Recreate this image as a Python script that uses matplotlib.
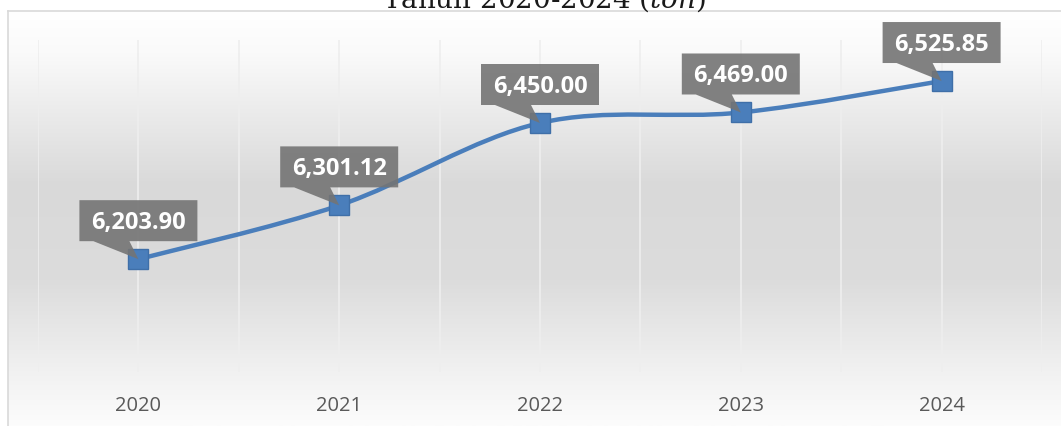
import numpy as np
import matplotlib.pyplot as plt
from matplotlib.path import Path
from matplotlib.patches import PathPatch, Polygon
from matplotlib.colors import LinearSegmentedColormap
from matplotlib.transforms import ScaledTranslation

# Data
tahun = ['2020', '2021', '2022', '2023', '2024']
produksi = [6203.90, 6301.12, 6450.00, 6469.00, 6525.85]
label_nilai = ['6,203.90', '6,301.12', '6,450.00', '6,469.00', '6,525.85']

plt.rcParams['mathtext.fontset'] = 'custom'
plt.rcParams['mathtext.rm'] = 'DejaVu Serif'
plt.rcParams['mathtext.it'] = 'DejaVu Serif:italic'

W, H = 1061, 426
fig = plt.figure(figsize=(W / 100, H / 100), dpi=100)
fig.patch.set_facecolor('white')

# Chart area with gradient background
bg = fig.add_axes([8 / W, 0, 1 - 8 / W, 1 - 11 / H])
cmap = LinearSegmentedColormap.from_list('grad', [
    (0.0, '#ffffff'), (0.10, '#fafafa'), (0.42, '#d9d9d9'),
    (0.65, '#dcdcdc'), (0.88, '#f2f2f2'), (1.0, '#fcfcfc')])
bg.imshow(np.linspace(0, 1, 256).reshape(-1, 1), aspect='auto', cmap=cmap,
          extent=[0, 1, 0, 1], origin='upper')
bg.set_xticks([])
bg.set_yticks([])
for s in ['right', 'bottom']:
    bg.spines[s].set_visible(False)
for s in ['left', 'top']:
    bg.spines[s].set_color('#d9d9d9')
    bg.spines[s].set_linewidth(1.2)

# Title (cut off at the top, as in the source)
fig.text(0.513, 1 - 8 / H, r'Tahun 2020-2024 ($\mathit{ton}$)', ha='center',
         va='baseline', fontsize=20, family='DejaVu Serif', color='#1a1a1a')

# Plot area
ax = fig.add_axes([38 / W, 1 - 372 / H, 1004 / W, 332 / H])
ax.set_facecolor('none')
x = np.arange(len(tahun))
ax.set_xlim(-0.5, 4.5)
ax.set_ylim(6000, 6600)

ax.set_xticks(x)
ax.set_xticklabels(tahun, fontsize=14.5, family='Open Sans', color='#595959')
ax.set_xticks(np.arange(-0.5, 4.6, 1.0), minor=True)
ax.tick_params(axis='x', which='both', length=0, pad=17)
ax.set_yticks([])
ax.grid(True, axis='x', which='both', color='#eeeeee', linewidth=1.2)
for s in ax.spines.values():
    s.set_visible(False)

# Smoothed line (Bezier through the data points)
pts = np.column_stack([x, produksi]).astype(float)
verts = [pts[0]]
codes = [Path.MOVETO]
n = len(pts)
for i in range(n - 1):
    p0 = pts[max(i - 1, 0)]
    p1 = pts[i]
    p2 = pts[i + 1]
    p3 = pts[min(i + 2, n - 1)]
    verts += [p1 + (p2 - p0) / 6, p2 - (p3 - p1) / 6, p2]
    codes += [Path.CURVE4] * 3
ax.add_patch(PathPatch(Path(verts, codes), fill=False, edgecolor='#4a7ebb',
                       linewidth=3.2, capstyle='round', zorder=2))

ax.plot(x, produksi, 's', markersize=14, markerfacecolor='#4a7ebb',
        markeredgecolor='#3f6fa8', markeredgewidth=1, zorder=3)

# Data labels in callout boxes (shape in inches relative to the point)
bw, bb, bt = 0.59, 0.18, 0.59
callout = [(-bw, bt), (bw, bt), (bw, bb), (-0.09, bb), (0, 0),
           (-0.45, bb), (-bw, bb)]
for xi, yi, lab in zip(x, produksi, label_nilai):
    tr = fig.dpi_scale_trans + ScaledTranslation(xi, yi, ax.transData)
    ax.add_patch(Polygon(callout, closed=True, transform=tr, fc='#747474',
                         ec='none', alpha=0.9, zorder=4, clip_on=False))
    ax.text(0, 0.30, lab, transform=tr, ha='center', va='baseline',
            color='white', fontsize=17, fontweight='bold', family='Open Sans',
            zorder=5)

fig.savefig('out.png', dpi=100)
